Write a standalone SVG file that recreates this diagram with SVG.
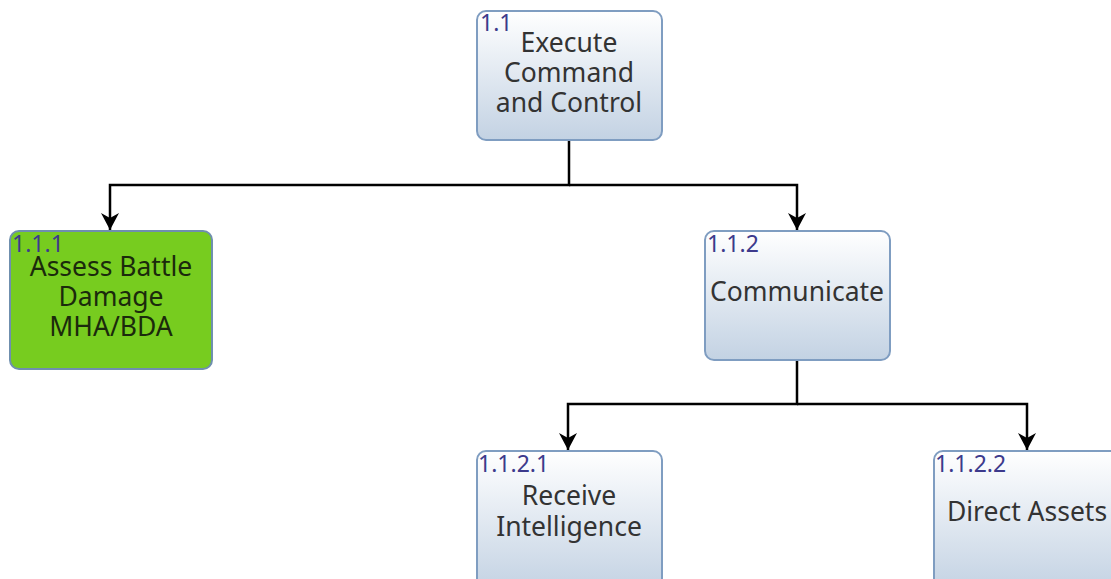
<svg xmlns="http://www.w3.org/2000/svg" width="1111" height="579" viewBox="0 0 1111 579">
  <style>
    .box { fill: url(#boxFill); stroke: #7f9dc1; stroke-width: 2; }
    .green { fill: #77cc1f; stroke: #6f8fae; stroke-width: 2; }
    .title { font-family: "Noto Sans", "Open Sans", sans-serif; font-size: 26.5px; fill: #333333; text-anchor: middle; }
    .green-title { fill: #1b2a0c; }
    .num { font-family: "Noto Sans", "Open Sans", sans-serif; font-size: 23px; fill: #3d3a8c; }
    .wire { fill: none; stroke: #000000; stroke-width: 2.5; }
  </style>
  <defs>
    <linearGradient id="boxFill" x1="0" y1="0" x2="0" y2="1">
      <stop offset="0" stop-color="#ffffff"/>
      <stop offset="1" stop-color="#c3d2e3"/>
    </linearGradient>
    <marker id="arrow" markerWidth="20" markerHeight="20" refX="17" refY="10" orient="auto" markerUnits="userSpaceOnUse">
      <path d="M0,1 L17,10 L0,19 L5,10 Z" fill="#000000"/>
    </marker>
  </defs>

  <rect width="1111" height="579" fill="#ffffff"/>

  <g id="connectors">
    <path class="wire" d="M569,140 V185 H110 V230" marker-end="url(#arrow)"/>
    <path class="wire" d="M569,185 H797 V230" marker-end="url(#arrow)"/>
    <path class="wire" d="M797,360 V404 H568 V450" marker-end="url(#arrow)"/>
    <path class="wire" d="M797,404 H1027 V450" marker-end="url(#arrow)"/>
  </g>

  <g id="node-1-1">
    <rect class="box" x="477" y="11" width="185" height="129" rx="9"/>
    <text class="num" x="480" y="31">1.1</text>
    <text class="title" x="569" y="52">Execute</text>
    <text class="title" x="569" y="82">Command</text>
    <text class="title" x="569" y="112">and Control</text>
  </g>

  <g id="node-1-1-1">
    <rect class="green" x="10" y="231" width="202" height="138" rx="9"/>
    <text class="num" x="12" y="252">1.1.1</text>
    <text class="title green-title" x="111" y="276">Assess Battle</text>
    <text class="title green-title" x="111" y="306">Damage</text>
    <text class="title green-title" x="111" y="336">MHA/BDA</text>
  </g>

  <g id="node-1-1-2">
    <rect class="box" x="705" y="231" width="185" height="129" rx="9"/>
    <text class="num" x="707" y="252">1.1.2</text>
    <text class="title" x="797" y="301">Communicate</text>
  </g>

  <g id="node-1-1-2-1">
    <rect class="box" x="477" y="451" width="185" height="140" rx="9"/>
    <text class="num" x="478" y="472">1.1.2.1</text>
    <text class="title" x="569" y="505">Receive</text>
    <text class="title" x="569" y="536">Intelligence</text>
  </g>

  <g id="node-1-1-2-2">
    <rect class="box" x="934" y="451" width="185" height="140" rx="9"/>
    <text class="num" x="935" y="472">1.1.2.2</text>
    <text class="title" x="1027" y="521">Direct Assets</text>
  </g>
</svg>
